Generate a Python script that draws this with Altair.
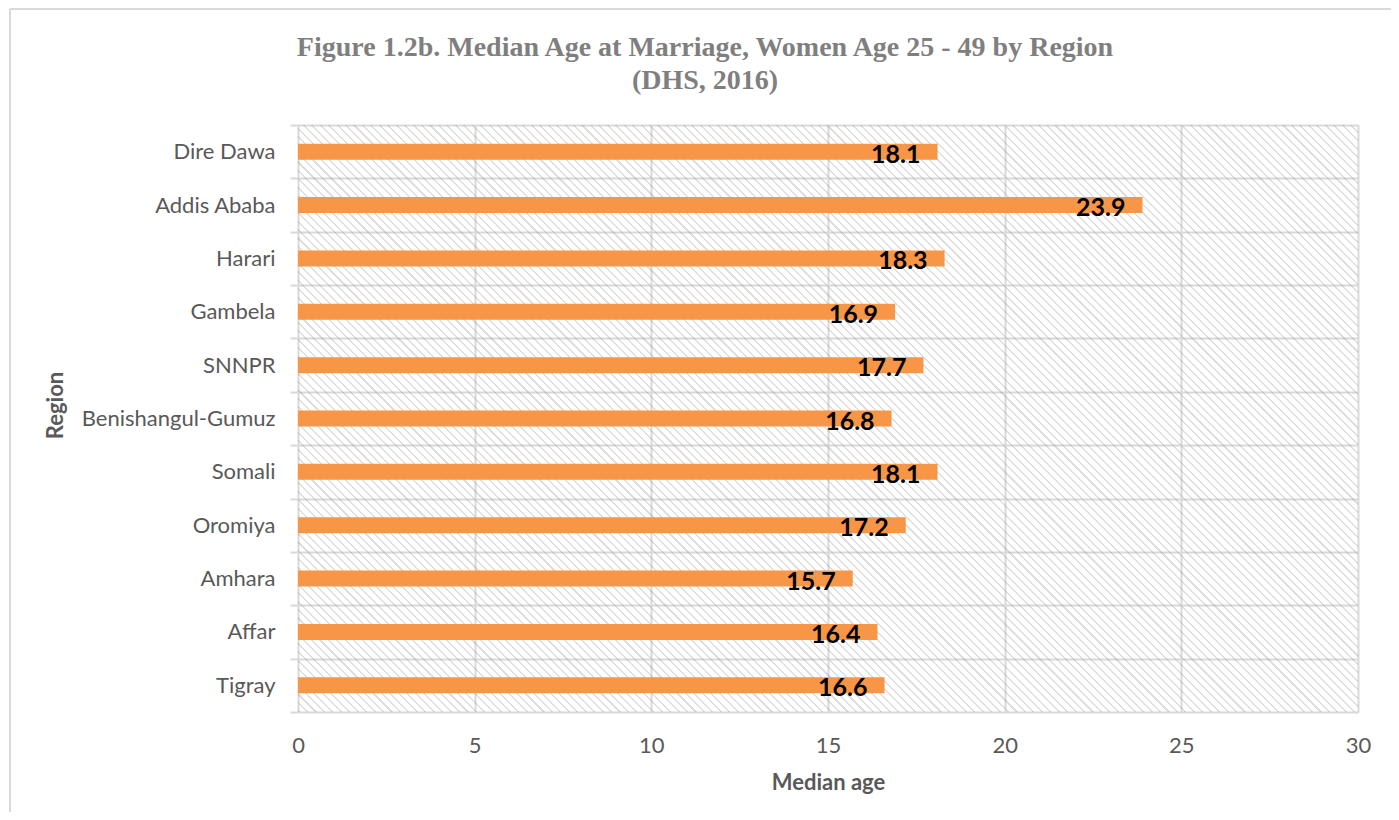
import altair as alt
import pandas as pd

regions = ["Tigray", "Affar", "Amhara", "Oromiya", "Somali", "Benishangul-Gumuz",
           "SNNPR", "Gambela", "Harari", "Addis Ababa", "Dire Dawa"]
median_age = [16.6, 16.4, 15.7, 17.2, 18.1, 16.8, 17.7, 16.9, 18.3, 23.9, 18.1]
x_ticks = [0, 5, 10, 15, 20, 25, 30]
title_lines = ["Figure 1.2b. Median Age at Marriage, Women Age 25 - 49 by Region", "(DHS, 2016)"]

df = pd.DataFrame({"Region": regions, "Median age": median_age})
order = list(reversed(regions))

W, H = 1060, 587

# diagonal hatch approximated with a striped linear gradient
r = H / W
k = (1 + r) / (1 + r * r)
n = 195
frac = 0.25
line_col = "rgba(150,150,150,0.30)"
clear = "rgba(255,255,255,0)"
stops = []
for i in range(n):
    s = i / n
    e = (i + frac) / n
    nxt = (i + 1) / n
    stops += [
        alt.GradientStop(offset=round(s, 6), color=line_col),
        alt.GradientStop(offset=round(e, 6), color=line_col),
        alt.GradientStop(offset=round(e, 6), color=clear),
        alt.GradientStop(offset=round(nxt, 6), color=clear),
    ]
hatch_fill = alt.LinearGradient(gradient="linear", stops=stops, x1=0, y1=1, x2=k, y2=1 - k * r)

x_enc = alt.X(
    "Median age:Q",
    scale=alt.Scale(domain=[0, 30], nice=False),
    axis=alt.Axis(
        values=x_ticks, grid=True, gridColor="#d9d9d9", gridWidth=2,
        ticks=False, tickSize=0, domain=False, labelPadding=23, labelFlush=False,
        labelFont="Lato", labelFontSize=22, labelColor="#595959",
        title="Median age", titleFont="Lato", titleFontSize=22, titleFontWeight="bold",
        titleColor="#595959", titleY=77, titleBaseline="alphabetic",
    ),
)
y_enc = alt.Y(
    "Region:N",
    sort=order,
    scale=alt.Scale(paddingInner=0, paddingOuter=0),
    axis=alt.Axis(
        tickBand="extent", grid=True, gridColor="#d9d9d9", gridWidth=2,
        ticks=True, tickSize=8, tickColor="#d9d9d9", tickWidth=2, domain=False,
        labelPadding=15, labelLimit=320, labelFont="Lato", labelFontSize=22, labelColor="#595959",
        title="Region", titleFont="Lato", titleFontSize=22, titleFontWeight="bold",
        titleColor="#595959", titleX=-243, titleY=280, titleAngle=270,
        titleAlign="center", titleBaseline="middle",
    ),
)

hatch = alt.Chart(alt.Data(values=[{"a": 0, "b": 30}])).mark_rect(fill=hatch_fill).encode(
    x=alt.X("a:Q", scale=alt.Scale(domain=[0, 30], nice=False)),
    x2="b:Q",
)

bars = alt.Chart(df).mark_bar(size=16, color="#F79646").encode(x=x_enc, y=y_enc)

labels = alt.Chart(df).mark_text(
    align="right", baseline="middle", dx=-17, dy=3,
    font="Lato", fontSize=25, fontWeight="bold", color="#000000",
).encode(
    x="Median age:Q",
    y=alt.Y("Region:N", sort=order),
    text=alt.Text("Median age:Q", format=".1f"),
)

# thin chart-area border (top and left edges)
frame_top = alt.Chart(alt.Data(values=[{}])).mark_rule(color="#d9d9d9", strokeWidth=2).encode(
    x=alt.value(-288), x2=alt.value(1120), y=alt.value(-116)
)
frame_left = alt.Chart(alt.Data(values=[{}])).mark_rule(color="#d9d9d9", strokeWidth=2).encode(
    x=alt.value(-288), y=alt.value(-116), y2=alt.value(720)
)

chart = alt.layer(hatch, bars, labels, frame_top, frame_left).properties(
    width=W,
    height=H,
    autosize=alt.AutoSizeParams(type="none"),
    padding={"left": 290, "top": 117, "right": 33, "bottom": 100},
    title=alt.TitleParams(
        text=title_lines, font="Liberation Serif", fontSize=28, fontWeight="bold",
        color="#7f7f7f", anchor="middle", frame="group", dx=-123, offset=0, dy=87, lineHeight=33,
    ),
).configure_view(stroke="transparent").configure(background="white")

chart.save("out.html", embed_options={"renderer": "svg", "actions": False})
